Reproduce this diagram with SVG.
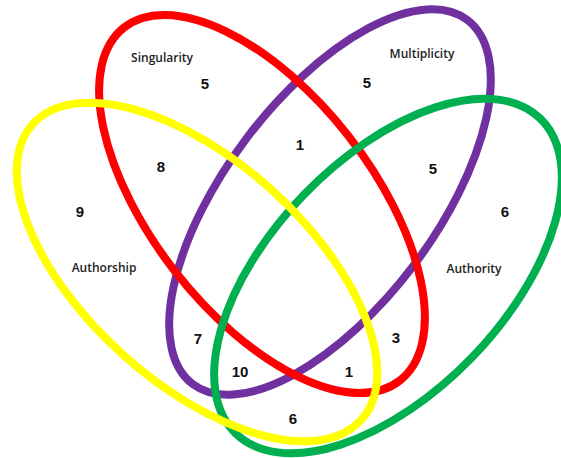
<svg xmlns="http://www.w3.org/2000/svg" width="561" height="458" viewBox="0 0 561 458">
<style>
.e{fill:none;stroke-width:8}
.lbl{font-family:"Open Sans","Liberation Sans",sans-serif;font-size:12px;font-weight:600;fill:#222;text-anchor:middle}
.num{font-family:"Liberation Sans",Arial,sans-serif;font-size:15px;font-weight:bold;fill:#111;text-anchor:middle}
</style>
<rect width="561" height="458" fill="#fff"/>
<g id="multiplicity"><ellipse class="e" stroke="#7030A0" cx="330" cy="202" rx="228" ry="105" transform="rotate(-53 330 202)"/></g>
<g id="singularity"><ellipse class="e" stroke="#FF0000" cx="262" cy="204" rx="224" ry="110" transform="rotate(52 262 204)"/></g>
<g id="authority"><ellipse class="e" stroke="#00B050" cx="388" cy="276" rx="219" ry="117" transform="rotate(-46 388 276)"/></g>
<g id="authorship"><ellipse class="e" stroke="#FFFF00" cx="197" cy="272" rx="221" ry="111" transform="rotate(42 197 272)"/></g>
<g id="labels">
<text class="lbl" x="162" y="62">Singularity</text>
<text class="lbl" x="422" y="58">Multiplicity</text>
<text class="lbl" x="104" y="272">Authorship</text>
<text class="lbl" x="474" y="273">Authority</text>
<text class="num" x="205" y="89">5</text>
<text class="num" x="367" y="88">5</text>
<text class="num" x="300" y="150">1</text>
<text class="num" x="161" y="172">8</text>
<text class="num" x="433" y="174">5</text>
<text class="num" x="505" y="217">6</text>
<text class="num" x="80" y="217">9</text>
<text class="num" x="198" y="344">7</text>
<text class="num" x="396" y="343">3</text>
<text class="num" x="240" y="377">10</text>
<text class="num" x="349" y="377">1</text>
<text class="num" x="293" y="424">6</text>
</g>
</svg>
